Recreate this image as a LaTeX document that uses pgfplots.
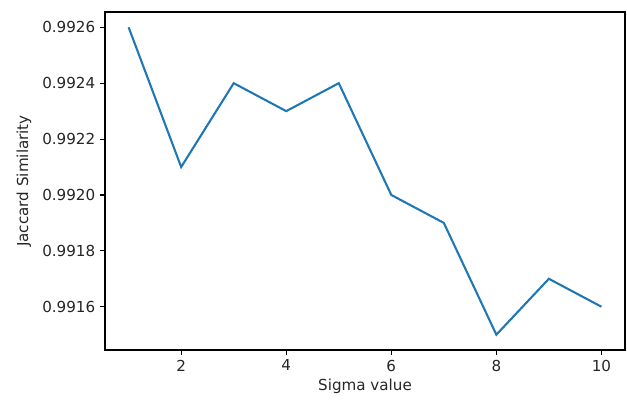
\documentclass[border=0pt]{standalone}
\usepackage{fontspec}
\setmainfont{DejaVu Sans}
\usepackage{pgfplots}
\pgfplotsset{compat=1.18}
\definecolor{mplblue}{HTML}{1F77B4}
\begin{document}
\begin{tikzpicture}
\useasboundingbox (-75.6pt,-35.3pt) rectangle (375.8pt,252pt);
\begin{axis}[
  at={(0,0)}, anchor=south west,
  scale only axis, width=374.4pt, height=243.4pt,
  xmin=0.55, xmax=10.45,
  ymin=0.991445, ymax=0.992655,
  xtick={2,4,6,8,10},
  ytick={0.9916,0.9918,0.9920,0.9922,0.9924,0.9926},
  scaled y ticks=false,
  yticklabel style={/pgf/number format/fixed, /pgf/number format/precision=4, /pgf/number format/fixed zerofill},
  /pgf/number format/assume math mode=true,
  tick align=outside, tick pos=left,
  major tick length=3.5pt,
  every tick/.style={black, line width=0.8pt},
  axis line style={line width=0.8pt},
  xlabel={Sigma value}, ylabel={Jaccard Similarity},
  xlabel style={at={(axis description cs:0.5,-0.106)}, anchor=center},
  ylabel style={at={(axis description cs:-0.156,0.5)}, anchor=center},
  tick label style={font=\fontsize{10.9}{13}\selectfont, text=black!85},
  label style={font=\fontsize{10.9}{13}\selectfont, text=black!85},
]
\addplot[mplblue, line width=1.5pt] coordinates {
 (1,0.9926) (2,0.9921) (3,0.9924) (4,0.9923) (5,0.9924)
 (6,0.9920) (7,0.9919) (8,0.9915) (9,0.9917) (10,0.9916)
};
\end{axis}
\end{tikzpicture}
\end{document}
